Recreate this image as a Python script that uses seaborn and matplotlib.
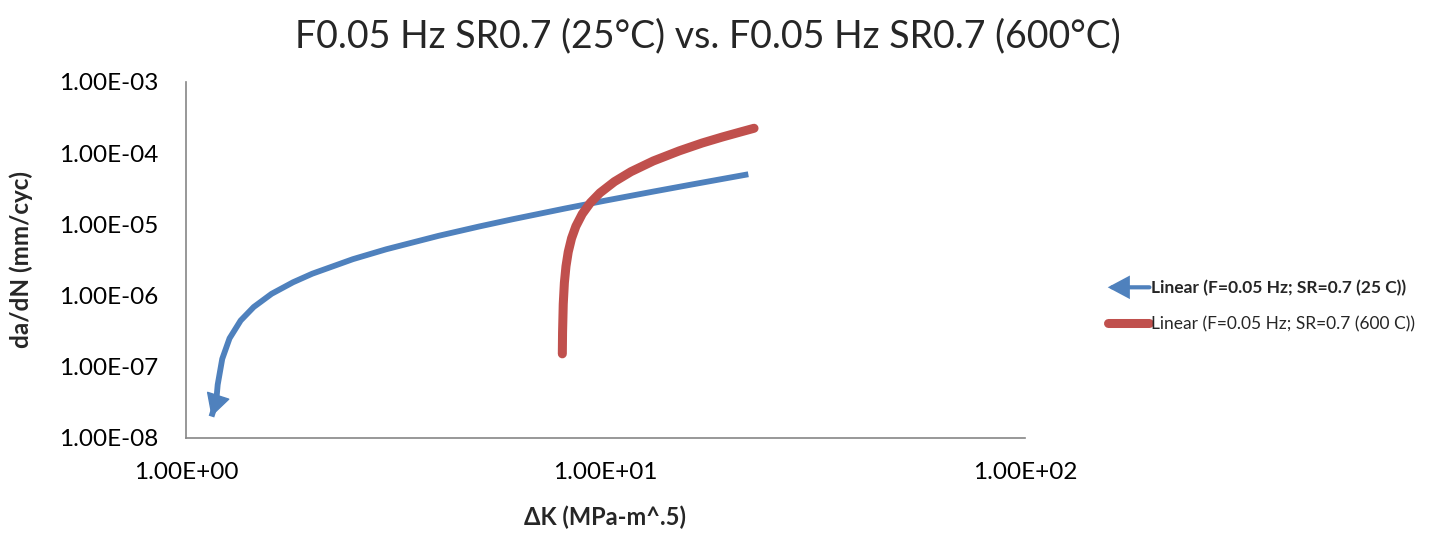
import numpy as np
import pandas as pd
import seaborn as sns
import matplotlib
matplotlib.use("Agg")
import matplotlib.pyplot as plt
from matplotlib.lines import Line2D
from matplotlib.patches import FancyArrowPatch
from matplotlib.legend_handler import HandlerBase

# ---- data (trendlines) ----
blue_label = "Linear (F=0.05 Hz; SR=0.7 (25 C))"
red_label = "Linear (F=0.05 Hz; SR=0.7 (600 C))"

blue_dk = [1.15, 1.18, 1.19, 1.22, 1.27, 1.35, 1.45, 1.6, 1.8, 2.0, 2.5, 3.0, 4.0,
           5.0, 6.0, 8.0, 10.0, 13.0, 16.0, 19.0, 21.9]
blue_dadn = [2.0e-8, 3.2e-8, 5.6e-8, 1.29e-7, 2.51e-7, 4.47e-7, 6.91e-7, 1.06e-6,
             1.54e-6, 2.03e-6, 3.25e-6, 4.47e-6, 6.91e-6, 9.35e-6, 1.18e-5, 1.67e-5,
             2.16e-5, 2.89e-5, 3.62e-5, 4.35e-5, 5.06e-5]

red_dk = [7.89, 7.90, 7.93, 7.98, 8.05, 8.15, 8.3, 8.5, 8.8, 9.2, 9.7, 10.5, 11.5,
          13.0, 15.0, 17.0, 19.0, 21.0, 22.6]
red_dadn = [1.52e-7, 3.04e-7, 7.6e-7, 1.52e-6, 2.58e-6, 4.1e-6, 6.38e-6, 9.42e-6,
            1.40e-5, 2.01e-5, 2.77e-5, 3.98e-5, 5.50e-5, 7.78e-5, 1.08e-4, 1.39e-4,
            1.69e-4, 1.99e-4, 2.24e-4]

x_ticks = [1, 10, 100]
x_ticklabels = ["1.00E+00", "1.00E+01", "1.00E+02"]
y_ticks = [1e-8, 1e-7, 1e-6, 1e-5, 1e-4, 1e-3]
y_ticklabels = ["1.00E-08", "1.00E-07", "1.00E-06", "1.00E-05", "1.00E-04", "1.00E-03"]

title = "F0.05 Hz SR0.7 (25°C) vs. F0.05 Hz SR0.7 (600°C)"
xlabel = "ΔK (MPa-m^.5)"
ylabel = "da/dN (mm/cyc)"

BLUE = "#4F81BD"
RED = "#C0504D"
GREY = "#868686"

df = pd.concat([
    pd.DataFrame({"dK": blue_dk, "dadn": blue_dadn, "series": blue_label}),
    pd.DataFrame({"dK": red_dk, "dadn": red_dadn, "series": red_label}),
])

sns.set_theme(style="white")
plt.rcParams["font.family"] = ["Lato", "DejaVu Sans"]

fig = plt.figure(figsize=(14.35, 5.35), dpi=100)
ax = fig.add_axes([186 / 1435, 1 - 438 / 535, (1025 - 186) / 1435, (438 - 82) / 535])

sns.lineplot(data=df[df.series == blue_label], x="dK", y="dadn", color=BLUE,
             lw=4.2, ax=ax, estimator=None, sort=False, legend=False,
             solid_capstyle="butt")
sns.lineplot(data=df[df.series == red_label], x="dK", y="dadn", color=RED,
             lw=6.5, ax=ax, estimator=None, sort=False, legend=False,
             solid_capstyle="round")

# arrow head at the backward end of the blue trendline
ax.annotate("", xy=(blue_dk[0], blue_dadn[0]), xytext=(blue_dk[1], blue_dadn[1]),
            arrowprops=dict(arrowstyle="-|>,head_length=0.7,head_width=0.38",
                            color=BLUE, lw=1.0, shrinkA=0, shrinkB=0,
                            mutation_scale=21))

ax.set_xscale("log")
ax.set_yscale("log")
ax.set_xlim(1, 100)
ax.set_ylim(1e-8, 1e-3)
ax.set_xticks(x_ticks)
ax.set_xticklabels(x_ticklabels)
ax.set_yticks(y_ticks)
ax.set_yticklabels(y_ticklabels)
ax.minorticks_off()
ax.tick_params(axis="both", which="major", direction="out", length=6, width=1,
               color=GREY, labelsize=17.5, labelcolor="#000000")
ax.tick_params(axis="y", pad=14)
ax.tick_params(axis="x", pad=11)

for s in ["top", "right"]:
    ax.spines[s].set_visible(False)
for s in ["left", "bottom"]:
    ax.spines[s].set_color(GREY)
    ax.spines[s].set_linewidth(1.2)

ax.set_xlabel(xlabel, fontsize=17, fontweight="bold")
ax.set_ylabel(ylabel, fontsize=17.5, fontweight="bold")
ax.yaxis.set_label_coords(-0.182, 0.5)
ax.xaxis.set_label_coords(0.5, -0.19)
fig.suptitle(title, x=0.493, y=0.965, fontsize=27)


class ArrowHandler(HandlerBase):
    def create_artists(self, legend, orig_handle, xdescent, ydescent, width,
                       height, fontsize, trans):
        y = height / 2 - ydescent
        a = FancyArrowPatch((width - xdescent, y), (-xdescent, y),
                            arrowstyle="-|>,head_length=0.75,head_width=0.4",
                            mutation_scale=15, lw=3.0, color=BLUE,
                            shrinkA=0, shrinkB=0, transform=trans,
                            joinstyle="miter")
        return [a]


h_blue = Line2D([], [], color=BLUE, lw=4.2)
h_red = Line2D([], [], color=RED, lw=6.5, solid_capstyle="round")
leg = ax.legend([h_blue, h_red], [blue_label, red_label],
                handler_map={h_blue: ArrowHandler()},
                loc="center left", bbox_to_anchor=(1.08, 0.37), frameon=False,
                fontsize=12.5, handlelength=2.4, handletextpad=0.1,
                labelspacing=1.15)
leg.get_texts()[0].set_fontweight("bold")

fig.savefig("out.png", dpi=100, facecolor="white")
